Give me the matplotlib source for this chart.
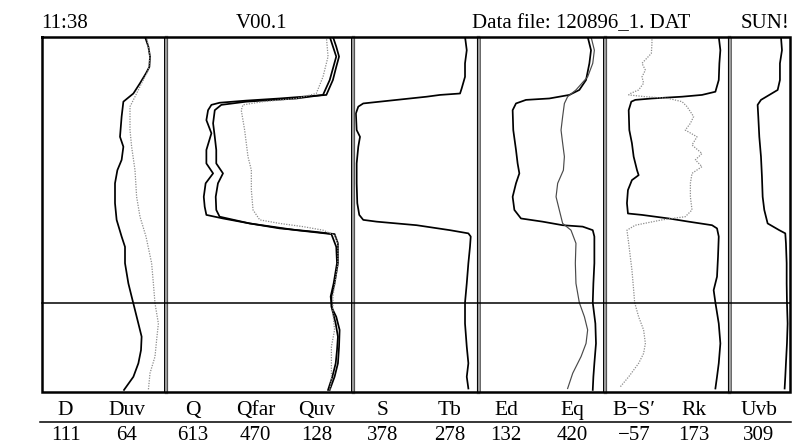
import matplotlib
matplotlib.use("Agg")
import matplotlib.pyplot as plt

plt.rcParams['font.family'] = ['Liberation Serif', 'DejaVu Serif']

# header texts
time_txt = "11:38"
version_txt = "V00.1"
file_txt = "Data file: 120896_1. DAT"
flag_txt = "SUN!"

# bottom table: curve names and their read-out values
names = ["D", "Duv", "Q", "Qfar", "Quv", "S", "Tb", "Ed", "Eq", "B\u2212S\u2032", "Rk", "Uvb"]
readings = ["111", "64", "613", "470", "128", "378", "278", "132", "420", "\u221257", "173", "309"]

# curves: depth (% of log height, top=0) and value (% of track width)
d_depth = [0, 2.8, 5.6, 8.5, 10.3, 13.1, 16.0, 18.3, 22.5, 28.2, 31.0, 34.7, 37.6, 41.3,
           46.9, 51.6, 56.3, 59.2, 63.8, 69.5, 73.2, 77.0, 80.8, 84.5, 88.3, 92.0, 95.8, 99.5]
d_val = [83.2, 85.9, 87.2, 86.7, 84.0, 79.2, 73.9, 65.9, 64.5, 63.2, 65.9, 64.5, 61.1, 59.2,
         59.2, 60.5, 64.5, 67.2, 67.2, 69.9, 72.5, 75.2, 77.9, 80.5, 80.0, 77.9, 73.9, 66.4]

duv_depth = [0, 5.6, 9.4, 13.1, 16.9, 19.7, 26.3, 31.0, 37.6, 45.1, 50.7, 56.3, 63.8, 69.5,
             75.1, 80.8, 85.4, 90.1, 94.8, 99.5]
duv_val = [84.5, 87.2, 85.9, 80.5, 75.2, 71.2, 71.2, 72.5, 75.2, 76.5, 79.2, 84.0, 88.5, 89.9,
           91.2, 93.9, 92.5, 91.2, 87.2, 85.9]

q_depth = [0, 2.8, 5.6, 8.5, 12.2, 16.4, 16.9, 17.4, 18.0, 18.6, 19.2, 20.7, 23.5, 27.2, 31.9,
           35.7, 38.5, 41.3, 45.1, 47.9, 50.2, 51.2, 52.6, 54.0, 54.9, 55.6, 58.2, 63.8, 69.5,
           73.2, 76.1, 78.9, 82.6, 87.3, 92.0, 95.8, 99.5]
q_val = [89.6, 91.4, 92.9, 91.4, 89.6, 86.1, 73.6, 61.1, 43.2, 28.9, 24.5, 22.7, 21.8, 24.5, 21.8,
         21.8, 25.4, 21.4, 20.4, 20.9, 21.8, 30.7, 45.0, 61.1, 78.9, 90.5, 92.3, 92.3, 90.5,
         88.8, 88.8, 91.4, 93.2, 92.9, 92.3, 90.5, 87.9]

qfar_depth = [0, 5.6, 12.2, 16.4, 17.4, 18.3, 19.2, 20.7, 24.4, 28.2, 31.9, 35.7, 38.5, 41.3,
              45.1, 48.8, 50.7, 52.6, 54.5, 55.6, 59.2, 63.8, 69.5, 73.2, 77.0, 80.8, 84.5,
              88.3, 92.0, 95.8, 99.5]
qfar_val = [87.9, 91.4, 87.9, 84.3, 70.0, 43.2, 29.8, 26.3, 25.4, 26.3, 27.1, 27.1, 30.7, 28.0,
            26.8, 27.1, 28.9, 45.0, 70.0, 88.8, 91.4, 91.8, 90.0, 88.4, 89.3, 91.1, 92.3,
            91.8, 91.1, 89.3, 87.0]

quv_depth = [0, 5.6, 11.3, 16.0, 17.4, 18.3, 19.2, 20.7, 26.3, 33.8, 37.6, 43.2, 48.8, 51.6,
             52.6, 53.5, 54.5, 55.9, 58.2, 63.8, 73.2, 77.9, 82.6, 87.3, 92.0, 96.7, 99.5]
quv_val = [86.1, 87.0, 84.3, 80.7, 70.0, 52.1, 41.4, 40.5, 42.3, 44.1, 45.9, 45.9, 46.8, 50.4,
           61.1, 73.6, 84.3, 90.5, 92.3, 92.3, 89.6, 89.6, 90.5, 88.8, 88.8, 88.8, 87.9]

s_depth = [0, 3.8, 7.5, 11.3, 14.6, 16.0, 16.4, 16.9, 17.7, 18.3, 18.8, 19.7, 21.6, 26.3, 28.2,
           31.0, 35.7, 41.3, 46.9, 50.2, 51.6, 52.1, 53.1, 54.5, 55.4, 56.3, 59.2, 63.8, 69.5,
           74.9, 80.8, 87.3, 92.0, 95.8, 99.1]
s_val = [89.8, 91.2, 89.8, 89.8, 87.1, 85.8, 69.7, 59.0, 37.5, 21.4, 8.0, 4.0, 2.1, 2.7, 5.4,
         4.0, 2.7, 2.7, 3.2, 4.8, 8.0, 18.8, 50.9, 77.7, 92.5, 94.4, 93.8, 92.5, 91.2,
         89.8, 89.8, 91.2, 92.5, 91.2, 92.5]

eq_depth = [0, 3.8, 7.5, 12.2, 15.0, 16.4, 17.4, 17.8, 18.8, 20.7, 26.3, 31.9, 35.7, 38.5,
            41.3, 45.1, 48.8, 51.2, 52.1, 53.1, 53.5, 54.5, 56.3, 63.8, 69.5, 74.9, 80.8,
            86.4, 92.0, 95.8, 99.5]
eq_val = [87.1, 89.8, 88.5, 85.8, 80.4, 72.4, 56.3, 37.5, 29.5, 26.8, 27.3, 29.5, 30.8, 32.2,
          29.5, 26.8, 28.2, 33.5, 50.9, 67.0, 83.1, 91.2, 92.5, 92.5, 91.7, 91.2, 93.3,
          93.8, 92.5, 91.7, 91.2]

ed_depth = [0, 3.8, 7.5, 11.3, 15.0, 16.9, 18.8, 22.5, 26.3, 30.0, 33.8, 37.6, 41.3, 45.1,
            48.8, 52.6, 54.5, 58.2, 63.8, 69.5, 74.9, 78.9, 82.6, 86.4, 90.1, 94.8, 99.1]
ed_val = [89.8, 92.5, 91.2, 87.1, 77.7, 71.0, 68.4, 67.0, 65.7, 67.0, 68.4, 67.6, 63.0, 61.7,
          64.3, 67.0, 73.7, 77.7, 77.2, 77.7, 80.4, 84.5, 87.1, 85.8, 81.8, 75.1, 71.0]

rk_depth = [0, 3.8, 7.5, 12.2, 15.5, 16.4, 16.9, 17.4, 17.8, 18.3, 20.7, 26.3, 30.0, 33.8,
            37.6, 39.0, 40.4, 43.2, 46.9, 49.8, 50.2, 51.2, 52.1, 53.1, 54.0, 56.3, 62.0,
            67.6, 71.4, 74.9, 80.8, 86.4, 92.0, 95.8, 99.1]
rk_val = [91.2, 92.5, 91.7, 91.2, 88.5, 77.7, 61.7, 37.5, 24.1, 20.9, 18.8, 19.3, 21.4, 22.8,
          25.5, 26.8, 21.4, 18.2, 17.4, 18.2, 29.5, 50.9, 67.0, 85.8, 89.8, 91.2, 90.6,
          89.8, 87.1, 88.5, 91.2, 92.5, 91.2, 89.8, 88.5]

bs_depth = [0, 1.9, 4.7, 7.5, 9.4, 11.3, 13.1, 15.0, 16.0, 16.4, 16.9, 17.4, 18.3, 19.7, 22.5,
            24.4, 26.3, 28.2, 30.5, 32.9, 34.7, 36.6, 38.5, 41.3, 45.1, 48.8, 50.7, 51.6,
            53.1, 54.5, 58.2, 62.0, 65.7, 71.4, 74.9, 78.9, 82.6, 86.4, 89.2, 92.0, 95.8, 98.6]
bs_val = [37.5, 37.5, 37.0, 29.5, 32.2, 29.5, 30.8, 26.8, 20.1, 18.8, 32.2, 50.9, 61.7, 65.7,
          71.0, 68.4, 64.3, 73.7, 69.7, 77.7, 72.4, 77.7, 69.7, 68.4, 68.4, 69.7, 64.3, 45.6,
          24.1, 17.4, 18.8, 20.1, 21.4, 22.8, 23.6, 26.8, 30.8, 32.2, 30.8, 26.8, 18.8, 12.1]

uvb_depth = [0, 3.8, 7.5, 12.2, 15.0, 16.4, 17.8, 19.2, 22.5, 28.2, 33.8, 39.4, 45.1, 48.8,
             52.6, 54.5, 55.4, 58.2, 63.8, 69.5, 74.9, 80.8, 86.4, 92.0, 95.8, 99.1]
uvb_val = [86.1, 87.8, 84.4, 84.4, 80.6, 66.7, 52.8, 47.2, 48.3, 50.0, 52.8, 54.4, 55.6, 58.3,
           63.9, 83.3, 93.3, 94.4, 95.6, 95.6, 96.1, 97.2, 96.1, 94.4, 93.3, 92.2]

W, H = 811, 445
fig = plt.figure(figsize=(W / 100, H / 100), dpi=100)
fig.patch.set_facecolor('white')

top, bottom = 36.7, 391.7
track_px = [(41, 166), (165.7, 352.3), (353.3, 477.7), (479.3, 603.7), (605.3, 729.7), (729.3, 789.3)]

solid = dict(color='black', lw=1.25, solid_joinstyle='round')
dotted = dict(color='#8c8c8c', lw=0.9, ls=(0, (1, 1.1)))
thin = dict(color='#4a4a4a', lw=0.85)

tracks = [
    [(d_depth, d_val, solid), (duv_depth, duv_val, dotted)],
    [(q_depth, q_val, solid), (qfar_depth, qfar_val, solid), (quv_depth, quv_val, dotted)],
    [(s_depth, s_val, solid)],
    [(eq_depth, eq_val, solid), (ed_depth, ed_val, thin)],
    [(rk_depth, rk_val, solid), (bs_depth, bs_val, dotted)],
    [(uvb_depth, uvb_val, solid)],
]

for (x0, x1), curves in zip(track_px, tracks):
    ax = fig.add_axes([x0 / W, 1 - bottom / H, (x1 - x0) / W, (bottom - top) / H])
    ax.set_xlim(0, 100)
    ax.set_ylim(100, 0)
    ax.axis('off')
    for depth, val, st in curves:
        ax.plot(val, depth, **st)

# overlay in pixel coordinates for frame, separators and text
ov = fig.add_axes([0, 0, 1, 1], facecolor='none')
ov.set_xlim(0, W)
ov.set_ylim(H, 0)
ov.axis('off')

# separators: gray band with black edges
for sx in [165.5, 352.7, 478.3, 604.5, 729.3]:
    ov.plot([sx, sx], [top, bottom], color='#9a9a9a', lw=2.4)
    ov.plot([sx - 1.4, sx - 1.4], [top, bottom], color='black', lw=0.7)
    ov.plot([sx + 1.4, sx + 1.4], [top, bottom], color='#333333', lw=0.5)

# frame and depth marker
ov.plot([41.5, 790, 790, 41.5, 41.5], [top, top, bottom, bottom, top], color='black', lw=1.8,
        solid_joinstyle='miter')
ov.plot([41.5, 790], [302.5, 302.5], color='black', lw=1.1)
ov.plot([40, 791], [421.7, 421.7], color='black', lw=1.1)

fs = 15
ov.text(41.5, 28.5, time_txt, fontsize=fs, ha='left', va='baseline')
ov.text(262, 28.5, version_txt, fontsize=fs, ha='center', va='baseline')
ov.text(471.5, 28.5, file_txt, fontsize=fs, ha='left', va='baseline')
ov.text(789, 28.5, flag_txt, fontsize=fs, ha='right', va='baseline')

col_x = [65.5, 127, 193, 255.5, 317, 383, 450, 506, 572, 634, 694, 759]
for cx, nm, rv in zip(col_x, names, readings):
    ov.text(cx, 415, nm, fontsize=15.5, ha='center', va='baseline')
    ov.text(cx, 440, rv, fontsize=15, ha='center', va='baseline')

fig.savefig('out.png', dpi=100, facecolor='white')
